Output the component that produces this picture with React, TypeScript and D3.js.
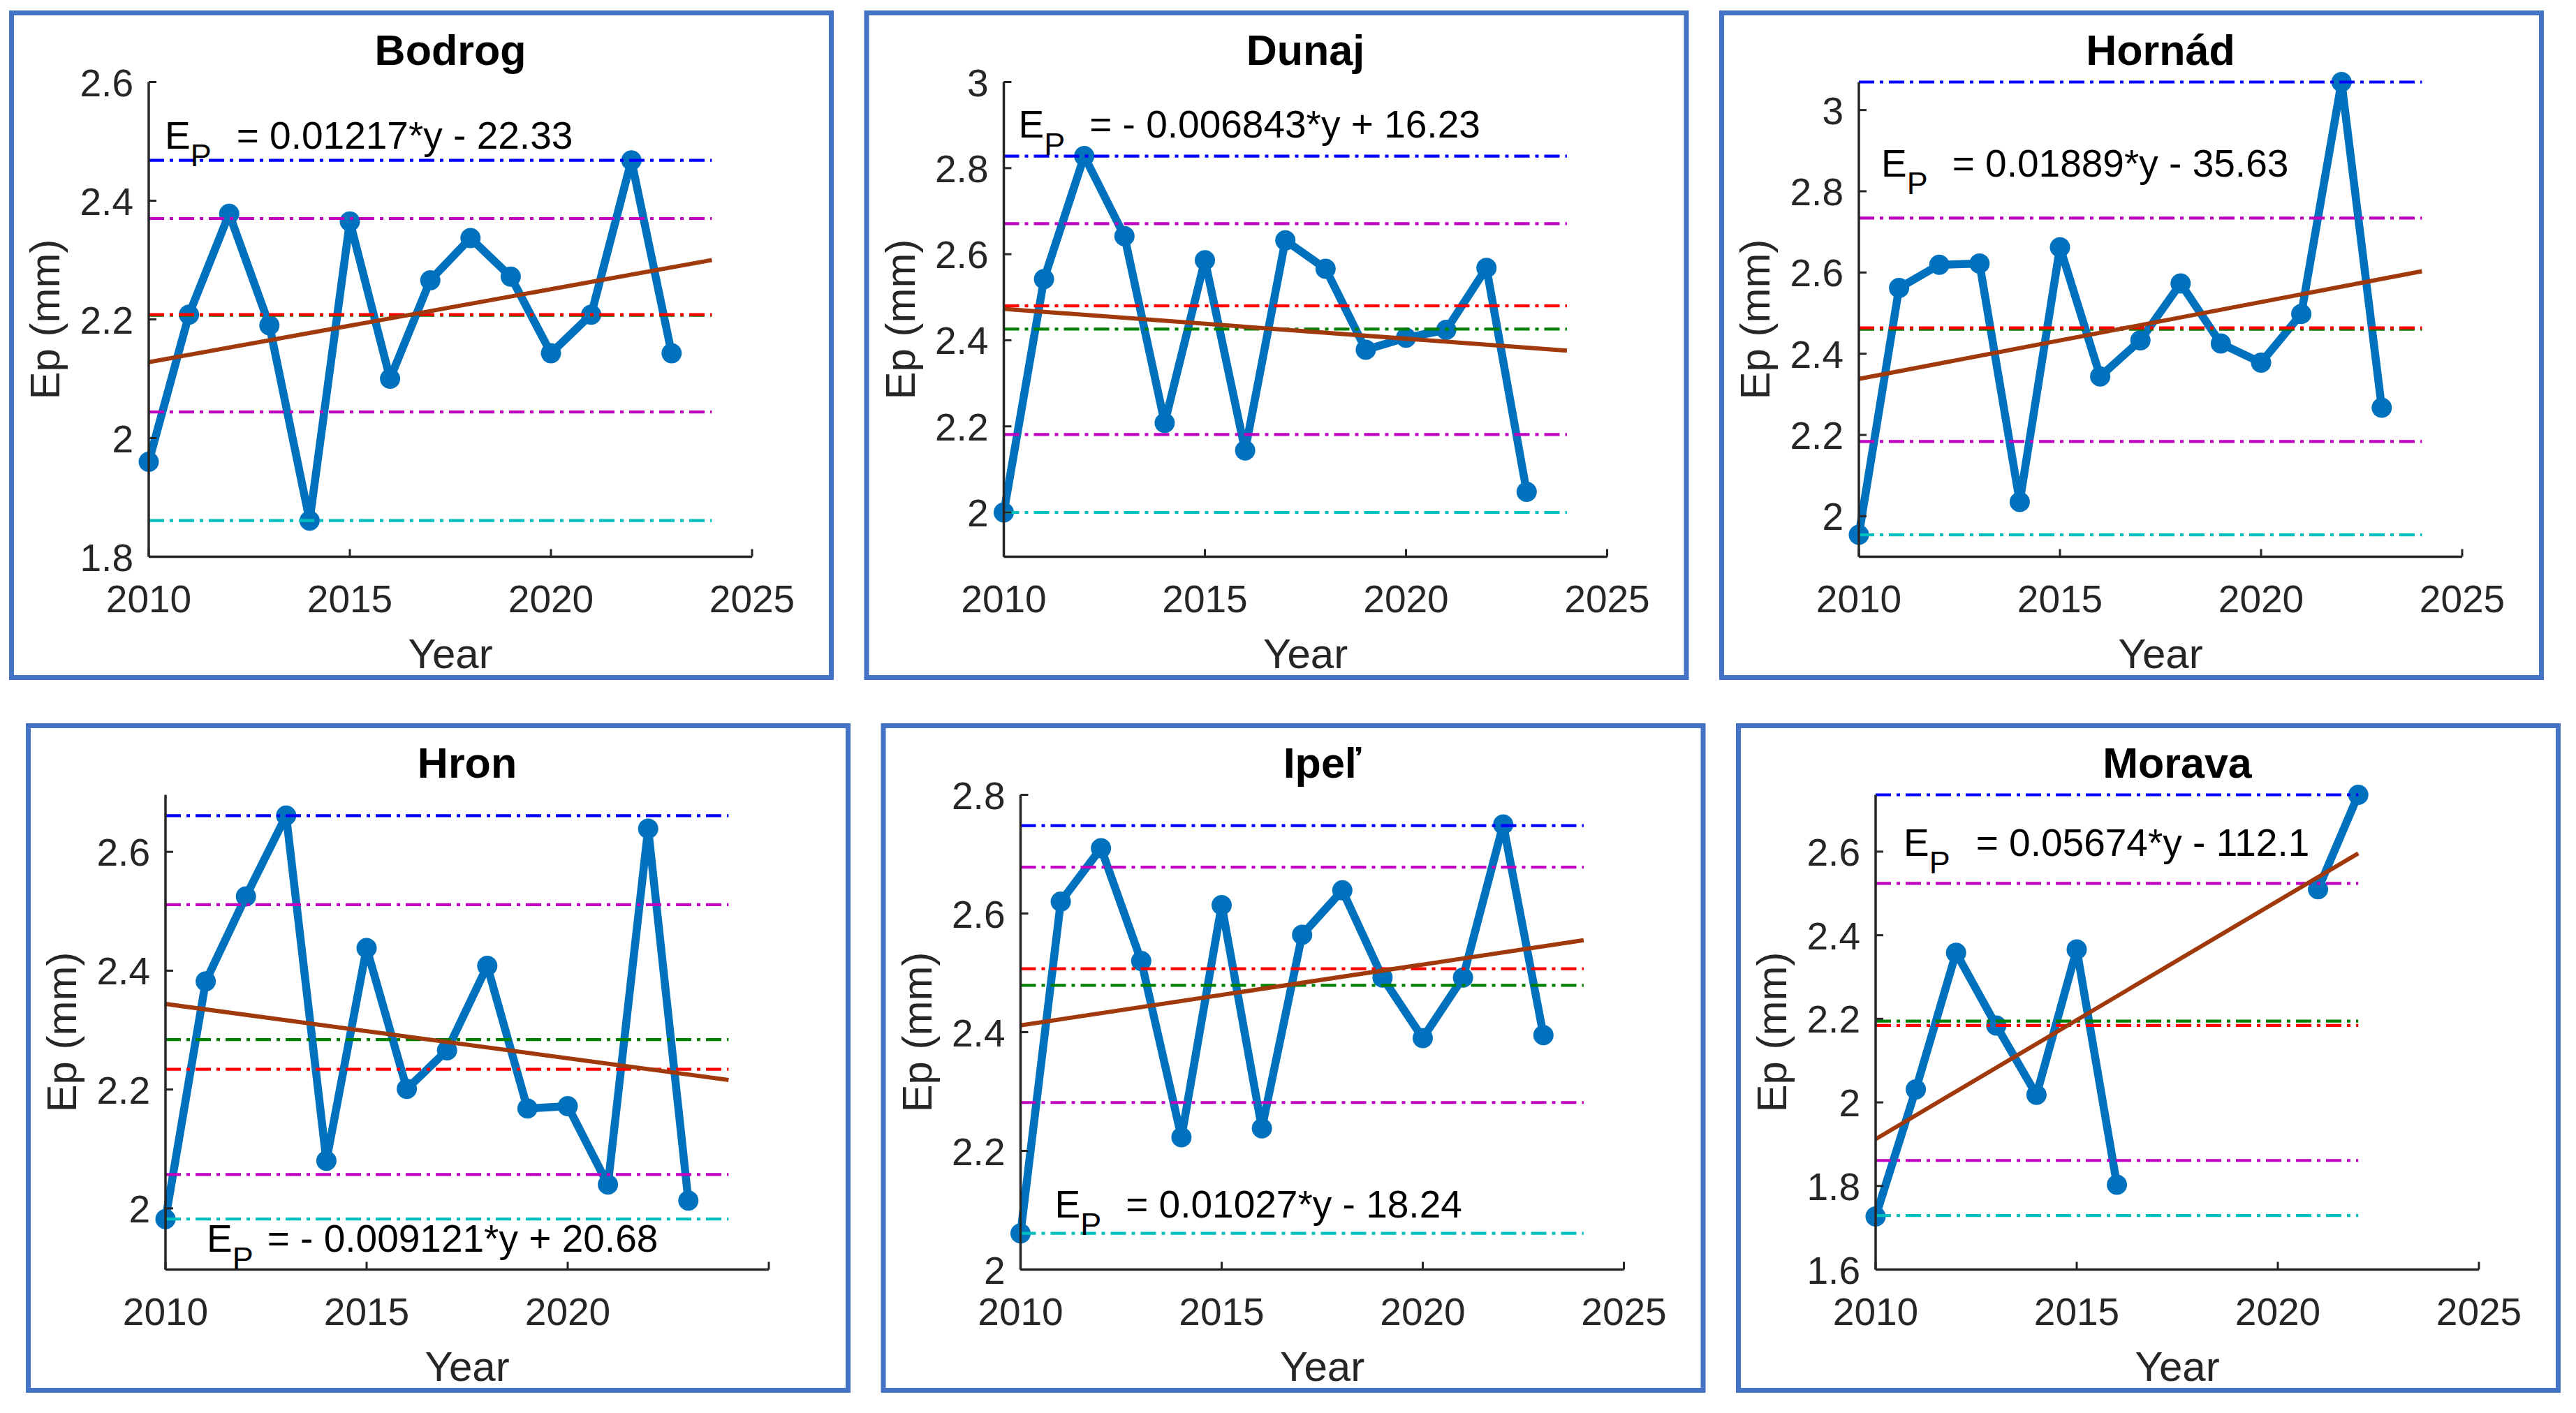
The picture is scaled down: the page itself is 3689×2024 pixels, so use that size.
import * as d3 from "d3";

// data
const years = [2010, 2011, 2012, 2013, 2014, 2015, 2016, 2017, 2018, 2019, 2020, 2021, 2022, 2023];
const rivers = ["Bodrog", "Dunaj", "Hornád", "Hron", "Ipeľ", "Morava"];

const bodrog = [1.96, 2.208, 2.378, 2.19, 1.861, 2.365, 2.1, 2.266, 2.337, 2.272, 2.143, 2.208, 2.468, 2.143];
const dunaj = [2.0, 2.542, 2.828, 2.642, 2.208, 2.586, 2.144, 2.632, 2.566, 2.378, 2.406, 2.424, 2.568, 2.048];
const hornad = [1.954, 2.562, 2.619, 2.622, 2.035, 2.662, 2.344, 2.433, 2.573, 2.425, 2.378, 2.498, 3.069, 2.267];
const hron = [1.982, 2.382, 2.525, 2.661, 2.08, 2.438, 2.201, 2.266, 2.408, 2.168, 2.172, 2.04, 2.639, 2.013];
const ipel = [2.061, 2.62, 2.71, 2.52, 2.223, 2.614, 2.238, 2.564, 2.639, 2.492, 2.39, 2.492, 2.75, 2.395];
const morava = [1.727, 2.031, 2.358, 2.184, 2.018, 2.366, 1.803, null, null, null, null, 2.51, 2.736, null];
const seriesValues: (number | null)[][] = [bodrog, dunaj, hornad, hron, ipel, morava];

// horizontal reference lines
const refMax = [2.468, 2.828, 3.069, 2.661, 2.748, 2.736];
const refUpper = [2.37, 2.671, 2.734, 2.511, 2.678, 2.524];
const refMedian = [2.208, 2.48, 2.4635, 2.234, 2.507, 2.184];
const refMean = [2.207, 2.426, 2.46, 2.284, 2.479, 2.1946];
const refLower = [2.044, 2.181, 2.184, 2.057, 2.2815, 1.861];
const refMin = [1.861, 2.0, 1.954, 1.982, 2.061, 1.7293];

// linear trend, value at first and last year
const trendStart = [2.128, 2.473, 2.338, 2.344, 2.4115, 1.912];
const trendEnd = [2.3, 2.376, 2.603, 2.216, 2.555, 2.596];
const trendEndYear = [2024, 2024, 2024, 2024, 2024, 2022];

const equations = [
  "= 0.01217*y - 22.33",
  "= - 0.006843*y + 16.23",
  "= 0.01889*y - 35.63",
  "= - 0.009121*y + 20.68",
  "= 0.01027*y - 18.24",
  "= 0.05674*y - 112.1",
];

const yDomains = [
  [1.8, 2.6],
  [1.897, 3],
  [1.9, 3.069],
  [1.897, 2.696],
  [2, 2.8],
  [1.6, 2.736],
];
const yTicks = [
  [1.8, 2, 2.2, 2.4, 2.6],
  [2, 2.2, 2.4, 2.6, 2.8, 3],
  [2, 2.2, 2.4, 2.6, 2.8, 3],
  [2, 2.2, 2.4, 2.6],
  [2, 2.2, 2.4, 2.6, 2.8],
  [1.6, 1.8, 2, 2.2, 2.4, 2.6],
];
const xTicks = [2010, 2015, 2020, 2025];
const xTickLabels = [
  ["2010", "2015", "2020", "2025"],
  ["2010", "2015", "2020", "2025"],
  ["2010", "2015", "2020", "2025"],
  ["2010", "2015", "2020", ""],
  ["2010", "2015", "2020", "2025"],
  ["2010", "2015", "2020", "2025"],
];

// equation placement (pixels from the axes' top-left corner)
const eqPlace = [
  { dx: 23, dy: 95, gap: 36 },
  { dx: 21, dy: 79, gap: 35 },
  { dx: 32, dy: 135, gap: 35 },
  { dx: 59, dy: 654, gap: 20 },
  { dx: 49, dy: 605, gap: 35 },
  { dx: 40, dy: 87, gap: 37 },
];

const FONT = "'Liberation Sans', Arial, Helvetica, sans-serif";
const AX = "#262626";
const W = 3689;
const H = 2024;

function Panel({ i }: { i: number }) {
  const row = Math.floor(i / 3);
  const col = i % 3;
  const px = (row === 0 ? 16.5 : 40.5) + col * 1224.5;
  const py = row === 0 ? 18.5 : 1039.5;
  const ax = px + 196.5;
  const ay = py + 99;
  const aw = 864;
  const ah = 680;

  const x = d3.scaleLinear().domain([2010, 2025]).range([ax, ax + aw]);
  const y = d3.scaleLinear().domain(yDomains[i]).range([ay + ah, ay]);

  const pts = years.map((yr, k) => ({ yr, v: seriesValues[i][k] }));
  const line = d3
    .line<{ yr: number; v: number | null }>()
    .defined((d) => d.v != null)
    .x((d) => x(d.yr))
    .y((d) => y(d.v as number));

  const x0 = x(2010);
  const x1 = x(trendEndYear[i]);
  const refs = [
    { v: refMax[i], c: "#0000ff" },
    { v: refUpper[i], c: "#c000c0" },
    { v: refLower[i], c: "#c000c0" },
    { v: refMin[i], c: "#00bfbf" },
    { v: refMean[i], c: "#008000" },
    { v: refMedian[i], c: "#ff0000" },
  ];

  const eq = eqPlace[i];

  return (
    <g>
      <rect x={px} y={py} width={1174} height={952} fill="#fff" stroke="#4472c4" strokeWidth={7} />

      {/* series */}
      <path d={line(pts) || ""} fill="none" stroke="#0072bd" strokeWidth={11.5} strokeLinejoin="round" />
      {pts
        .filter((d) => d.v != null)
        .map((d) => (
          <circle key={d.yr} cx={x(d.yr)} cy={y(d.v as number)} r={14.5} fill="#0072bd" />
        ))}

      {/* reference lines */}
      {refs.map((r, k) => (
        <line
          key={k}
          x1={x0}
          x2={x1}
          y1={y(r.v)}
          y2={y(r.v)}
          stroke={r.c}
          strokeWidth={4.2}
          strokeDasharray="22 8 5 8"
        />
      ))}

      {/* trend */}
      <line
        x1={x(2010)}
        x2={x(trendEndYear[i])}
        y1={y(trendStart[i])}
        y2={y(trendEnd[i])}
        stroke="#a0390c"
        strokeWidth={6}
      />

      {/* axes */}
      <line x1={ax} x2={ax} y1={ay} y2={ay + ah} stroke={AX} strokeWidth={3.5} />
      <line x1={ax} x2={ax + aw} y1={ay + ah} y2={ay + ah} stroke={AX} strokeWidth={3.5} />
      {yTicks[i].map((t) => (
        <g key={t}>
          <line x1={ax} x2={ax + 11} y1={y(t)} y2={y(t)} stroke={AX} strokeWidth={3} />
          <text x={ax - 22} y={y(t) + 20} textAnchor="end" fontSize={55} fill={AX} fontFamily={FONT}>
            {String(t)}
          </text>
        </g>
      ))}
      {xTicks.map((t, k) => (
        <g key={t}>
          <line x1={x(t)} x2={x(t)} y1={ay + ah} y2={ay + ah - 11} stroke={AX} strokeWidth={3} />
          <text x={x(t)} y={ay + ah + 79} textAnchor="middle" fontSize={55} fill={AX} fontFamily={FONT}>
            {xTickLabels[i][k]}
          </text>
        </g>
      ))}

      {/* labels */}
      <text x={ax + aw / 2} y={ay - 25} textAnchor="middle" fontSize={61} fontWeight="bold" fill="#000" fontFamily={FONT}>
        {rivers[i]}
      </text>
      <text x={ax + aw / 2} y={ay + ah + 159} textAnchor="middle" fontSize={60} fill={AX} fontFamily={FONT}>
        Year
      </text>
      <text
        transform={`translate(${ax - 128},${ay + ah / 2}) rotate(-90)`}
        textAnchor="middle"
        fontSize={60}
        fill={AX}
        fontFamily={FONT}
      >
        Ep (mm)
      </text>
      <text x={ax + eq.dx} y={ay + eq.dy} fontSize={55} fill="#000" fontFamily={FONT}>
        <tspan>E</tspan>
        <tspan dy={25} fontSize={45}>
          P
        </tspan>
        <tspan dy={-25} dx={eq.gap}>
          {equations[i]}
        </tspan>
      </text>
    </g>
  );
}

export default function App() {
  return (
    <svg
      width={W}
      height={H}
      viewBox={`0 0 ${W} ${H}`}
      style={{ position: "absolute", left: 0, top: 0, background: "#fff" }}
    >
      {rivers.map((r, i) => (
        <Panel key={r} i={i} />
      ))}
    </svg>
  );
}
